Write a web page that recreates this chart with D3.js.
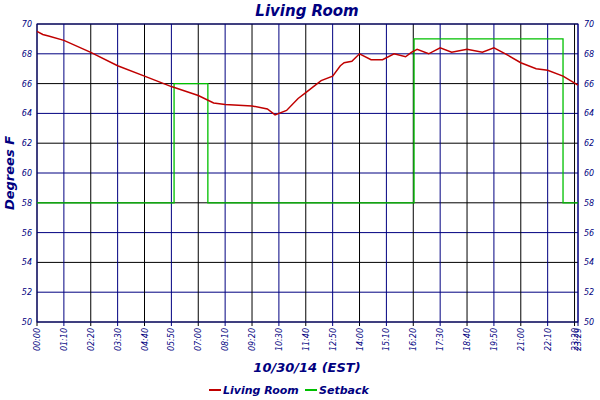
<!DOCTYPE html>
<html><head><meta charset="utf-8">
<script src="https://cdn.jsdelivr.net/npm/d3@7"></script>
<style>body{margin:0;background:#fff}text{font-family:"DejaVu Sans",sans-serif;font-style:italic;fill:#000080}</style>
</head><body><svg id="svg" width="600" height="400"></svg>
<script>
// living room readings: [minutes since midnight, deg F]
const roomTimes = [0,15,30,70,140,210,280,350,420,460,490,560,600,620,650,680,700,720,740,770,790,800,820,840,870,900,930,960,975,990,1020,1050,1080,1120,1160,1190,1220,1260,1300,1330,1370,1409];
const roomTemps = [69.5,69.3,69.2,68.9,68.1,67.2,66.5,65.8,65.2,64.7,64.6,64.5,64.3,63.9,64.2,65.0,65.4,65.8,66.2,66.5,67.2,67.4,67.5,68.0,67.6,67.6,68.0,67.8,68.1,68.3,68.0,68.4,68.1,68.3,68.1,68.4,68.0,67.4,67.0,66.9,66.5,65.9];
// setback schedule steps
const setTimes = [0,357,445,982,1370,1409];
const setTemps = [58,66,58,69,58,58];
const yTicks = [50,52,54,56,58,60,62,64,66,68,70];
const xTickMins = d3.range(0,1401,70);

const svg = d3.select("#svg");
const x = d3.scaleLinear().domain([0,1409]).range([37,578]);
const y = d3.scaleLinear().domain([50,70]).range([322,24]);
const fmt = m => String(Math.floor(m/60)).padStart(2,"0")+":"+String(m%60).padStart(2,"0");

svg.selectAll(".hg").data(yTicks).enter().append("line")
  .attr("x1",37).attr("x2",578).attr("y1",d=>y(d)).attr("y2",d=>y(d))
  .attr("stroke",(d,i)=>i%2?"#000080":"#000").attr("stroke-width",1);
svg.selectAll(".vg").data(xTickMins.concat([1409])).enter().append("line")
  .attr("x1",d=>x(d)).attr("x2",d=>x(d)).attr("y1",24).attr("y2",326)
  .attr("stroke",(d,i)=>i%2?"#000080":"#000").attr("stroke-width",1);
svg.append("rect").attr("x",37).attr("y",24).attr("width",541).attr("height",298)
  .attr("fill","none").attr("stroke","#000080");

const step = d3.line().x(d=>x(d[0])).y(d=>y(d[1])).curve(d3.curveStepAfter);
const lin = d3.line().x(d=>x(d[0])).y(d=>y(d[1]));
svg.append("path").datum(setTimes.map((t,i)=>[t,setTemps[i]]))
  .attr("d",step).attr("fill","none").attr("stroke","#00c000").attr("stroke-width",1.3);
svg.append("path").datum(roomTimes.map((t,i)=>[t,roomTemps[i]]))
  .attr("d",lin).attr("fill","none").attr("stroke","#c00000").attr("stroke-width",1.5);

svg.selectAll(".yl").data(yTicks).enter().append("text").attr("x",32).attr("y",d=>y(d)+3)
  .attr("text-anchor","end").style("font-size","8px").text(d=>d);
svg.selectAll(".yr").data(yTicks).enter().append("text").attr("x",584).attr("y",d=>y(d)+3)
  .style("font-size","8px").text(d=>d);
svg.selectAll(".xl").data(xTickMins.map(fmt).concat(["23:29"])).enter().append("text")
  .attr("transform",(d,i)=>`translate(${x(i<xTickMins.length?xTickMins[i]:1409)+3},328) rotate(-90)`)
  .attr("text-anchor","end").style("font-size","8px").text(d=>d);

svg.append("text").attr("x",307).attr("y",16).attr("text-anchor","middle")
  .style("font-size","15px").style("font-weight","bold").text("Living Room");
svg.append("text").attr("x",307).attr("y",372).attr("text-anchor","middle")
  .style("font-size","13px").style("font-weight","bold").text("10/30/14 (EST)");
svg.append("text").attr("transform","translate(14,173) rotate(-90)").attr("text-anchor","middle")
  .style("font-size","13px").style("font-weight","bold").text("Degrees F");

const leg = [["Living Room","#c00000",209],["Setback","#00c000",305]];
leg.forEach(l=>{
  svg.append("line").attr("x1",l[2]).attr("x2",l[2]+12).attr("y1",390).attr("y2",390).attr("stroke",l[1]).attr("stroke-width",2);
  svg.append("text").attr("x",l[2]+14).attr("y",394).style("font-size","11px").style("font-weight","bold").text(l[0]);
});
</script></body></html>
